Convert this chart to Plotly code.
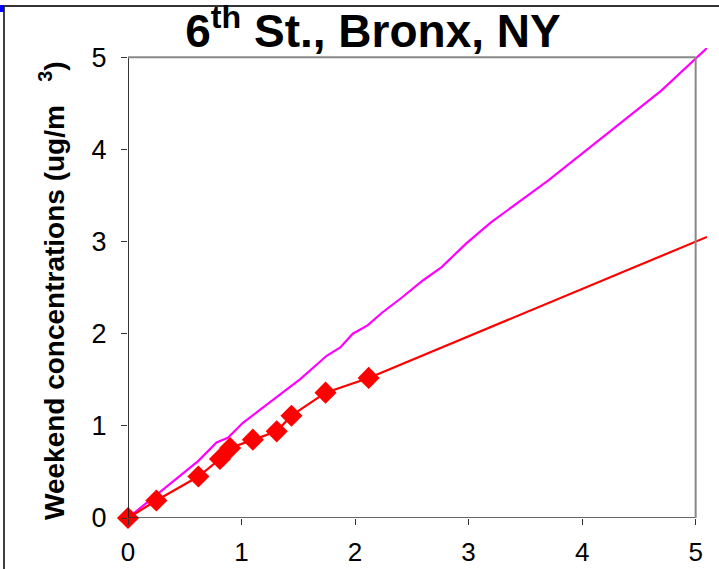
import plotly.graph_objects as go

# Red series (weekday vs weekend, with markers)
red_x = [0.0, 0.25, 0.62, 0.81, 0.90, 1.10, 1.31, 1.44, 1.74, 2.12]
red_y = [0.0, 0.19, 0.45, 0.64, 0.76, 0.85, 0.94, 1.11, 1.36, 1.52]

# Red extension (trend) line
ext_x = [2.12, 5.10]
ext_y = [1.52, 3.05]

# Magenta reference line
mag_x = [0.0, 0.12, 0.25, 0.44, 0.62, 0.78, 0.88, 1.01, 1.16, 1.30, 1.38, 1.52,
         1.75, 1.87, 1.98, 2.11, 2.24, 2.41, 2.60, 2.76, 2.98, 3.20, 3.70, 4.20, 4.70, 5.10]
mag_y = [0.0, 0.12, 0.26, 0.44, 0.62, 0.82, 0.87, 1.03, 1.17, 1.30, 1.37, 1.51,
         1.76, 1.85, 2.00, 2.09, 2.23, 2.39, 2.58, 2.72, 2.98, 3.21, 3.66, 4.15, 4.64, 5.10]

x_ticks = [0, 1, 2, 3, 4, 5]
y_ticks = [0, 1, 2, 3, 4, 5]

FONT = "Arial, 'Liberation Sans', sans-serif"

fig = go.Figure()
fig.add_trace(go.Scatter(x=mag_x, y=mag_y, mode="lines",
                         line=dict(color="#FF00FF", width=2.2), cliponaxis=False,
                         showlegend=False, hoverinfo="skip"))
fig.add_trace(go.Scatter(x=ext_x, y=ext_y, mode="lines",
                         line=dict(color="#FF0000", width=2.2), cliponaxis=False,
                         showlegend=False, hoverinfo="skip"))
fig.add_trace(go.Scatter(x=red_x, y=red_y, mode="lines+markers",
                         line=dict(color="#FF0000", width=2.2),
                         marker=dict(symbol="diamond", size=17, color="#FF0000"),
                         cliponaxis=False, showlegend=False))

fig.update_layout(
    width=719, height=569,
    margin=dict(l=128, r=12, t=48, b=51, autoexpand=False),
    paper_bgcolor="white", plot_bgcolor="white",
    font=dict(family=FONT, color="black"),
    xaxis=dict(range=[0, 5.1], tickvals=x_ticks, ticks="outside", ticklen=6,
               tickcolor="#333333", tickwidth=1.3, showline=False, showgrid=False,
               zeroline=False, tickfont=dict(size=26, family=FONT),
               ticklabelstandoff=5, automargin=False),
    yaxis=dict(range=[0, 5.1], tickvals=y_ticks, ticks="outside", ticklen=6,
               tickcolor="#333333", tickwidth=1.3, showline=False, showgrid=False,
               zeroline=False, tickfont=dict(size=27, family=FONT),
               ticklabelstandoff=9, automargin=False),
    title=dict(text="<b>6<sup>th</sup> St., Bronx, NY</b>", x=373/719, xanchor="center",
               y=1 - 31/569, yanchor="middle", xref="container",
               yref="container", font=dict(size=46, family=FONT, color="black")),
)

shapes = [
    # left axis line
    dict(type="line", xref="x", yref="y", x0=0, x1=0, y0=0, y1=5,
         line=dict(color="black", width=1.6)),
    # bottom axis line
    dict(type="line", xref="x", yref="y", x0=0, x1=5, y0=0, y1=0,
         line=dict(color="#333333", width=1.6)),
    # top border
    dict(type="line", xref="x", yref="y", x0=0, x1=5, y0=5, y1=5,
         line=dict(color="#888888", width=2)),
    # right border
    dict(type="line", xref="x", yref="y", x0=5, x1=5, y0=0, y1=5,
         line=dict(color="#888888", width=2)),
    # outer frame left
    dict(type="line", xref="paper", yref="paper", x0=(4-128)/579, x1=(4-128)/579,
         y0=(518-7)/470, y1=(518-575)/470, line=dict(color="black", width=1.5)),
    # outer frame top
    dict(type="line", xref="paper", yref="paper", x0=(4-128)/579, x1=(725-128)/579,
         y0=(518-6)/470, y1=(518-6)/470, line=dict(color="#333333", width=2)),
    # small blue mark
    dict(type="rect", xref="paper", yref="paper", x0=(0-128)/579, x1=(4-128)/579,
         y0=(518-12)/470, y1=(518-5)/470, line=dict(width=0), fillcolor="#0000FF"),
]
fig.update_layout(shapes=shapes)

fig.add_annotation(text="<b>Weekend concentrations (ug/m   <sup>3</sup>)</b>",
                   xref="paper", yref="paper", x=(52-128)/579, y=(518-291)/470,
                   textangle=-90, showarrow=False, xanchor="center", yanchor="middle",
                   font=dict(size=28, family=FONT, color="black"))

fig.write_html(
    "out.html",
    config={"displayModeBar": False},
    post_script="document.body.style.margin='0';document.body.style.overflow='hidden';",
)
